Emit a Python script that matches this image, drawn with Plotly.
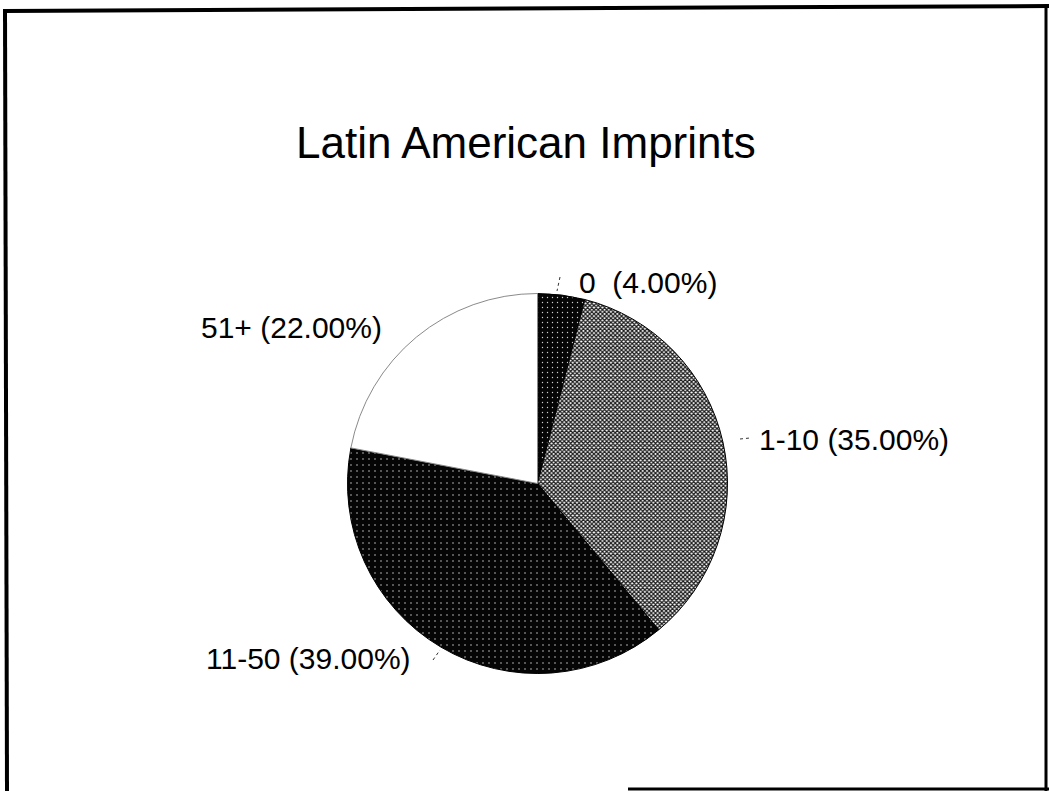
import plotly.graph_objects as go

# data
labels = ["0", "1-10", "11-50", "51+"]
shares = [4.00, 35.00, 39.00, 22.00]
label_gaps = ["  ", " ", " ", " "]

fills = ["#050505", "#ffffff", "#050505", "#ffffff"]
patterns = [
    dict(shape=".", bgcolor="#050505", fgcolor="#d0d0d0", size=5, solidity=0.06),
    dict(shape="x", bgcolor="#ffffff", fgcolor="#1a1a1a", size=3, solidity=0.65),
    dict(shape=".", bgcolor="#050505", fgcolor="#d0d0d0", size=6, solidity=0.05),
    dict(shape="", bgcolor="#ffffff", fgcolor="#ffffff"),
]
edge_colors = ["#000000", "#000000", "#000000", "#8a8a8a"]

W, H = 1049, 791


def px(sx):
    return sx / W


def py(sy):
    return 1 - sy / H


cx, cy, r = 537.5, 483.5, 190

pie = go.Pie(
    labels=labels,
    values=shares,
    sort=False,
    direction="clockwise",
    rotation=0,
    textinfo="none",
    hoverinfo="label+percent",
    showlegend=False,
    domain=dict(x=[px(cx - r), px(cx + r)], y=[py(cy + r), py(cy - r)]),
    marker=dict(
        colors=fills,
        line=dict(color=edge_colors, width=1),
        pattern=dict(
            shape=[p["shape"] for p in patterns],
            bgcolor=[p["bgcolor"] for p in patterns],
            fgcolor=[p["fgcolor"] for p in patterns],
            size=[p.get("size", 8) for p in patterns],
            solidity=[p.get("solidity", 0.3) for p in patterns],
            fillmode="replace",
        ),
    ),
)

fig = go.Figure(data=[pie])

font = dict(family="Arial, Liberation Sans, sans-serif", color="#000000")

# slice labels, placed like the original callouts
label_spots = [
    (577, 283, "left"),
    (757, 439, "left"),
    (413, 658, "right"),
    (384, 327, "right"),
]
for name, val, gap, (lx, ly, anchor) in zip(labels, shares, label_gaps, label_spots):
    fig.add_annotation(
        x=px(lx), y=py(ly), xref="paper", yref="paper",
        text=f"{name}{gap}({val:.2f}%)", showarrow=False,
        xanchor=anchor, yanchor="middle",
        font=dict(size=30, **font),
    )

fig.add_annotation(
    x=px(526), y=py(143), xref="paper", yref="paper",
    text="Latin American Imprints", showarrow=False,
    xanchor="center", yanchor="middle",
    font=dict(size=44, **font),
)

# short leader ticks
leaders = [((560, 277), (557, 291)), ((740, 439), (750, 438)), ((433, 660), (440, 650))]
for (x0, y0), (x1, y1) in leaders:
    fig.add_shape(
        type="line", xref="paper", yref="paper",
        x0=px(x0), y0=py(y0), x1=px(x1), y1=py(y1),
        line=dict(color="#333333", width=1, dash="dot"),
    )

# scanned slide frame
frame = [
    ((5, 11), (1049, 6), 4),
    ((5, 9), (7, 791), 4),
    ((1046, 6), (1046, 791), 3),
    ((628, 789), (1049, 789), 3),
]
for (x0, y0), (x1, y1), wd in frame:
    fig.add_shape(
        type="line", xref="paper", yref="paper",
        x0=px(x0), y0=py(y0), x1=px(x1), y1=py(y1),
        line=dict(color="#000000", width=wd),
    )

fig.update_layout(
    width=W,
    height=H,
    margin=dict(l=0, r=0, t=0, b=0),
    paper_bgcolor="#ffffff",
    plot_bgcolor="#ffffff",
)

# drop the browser's default body margin so the figure sits at the page origin
fig.write_html(
    "out.html",
    config={"displayModeBar": False},
    post_script="document.body.style.margin='0';document.body.style.overflow='hidden';",
)
